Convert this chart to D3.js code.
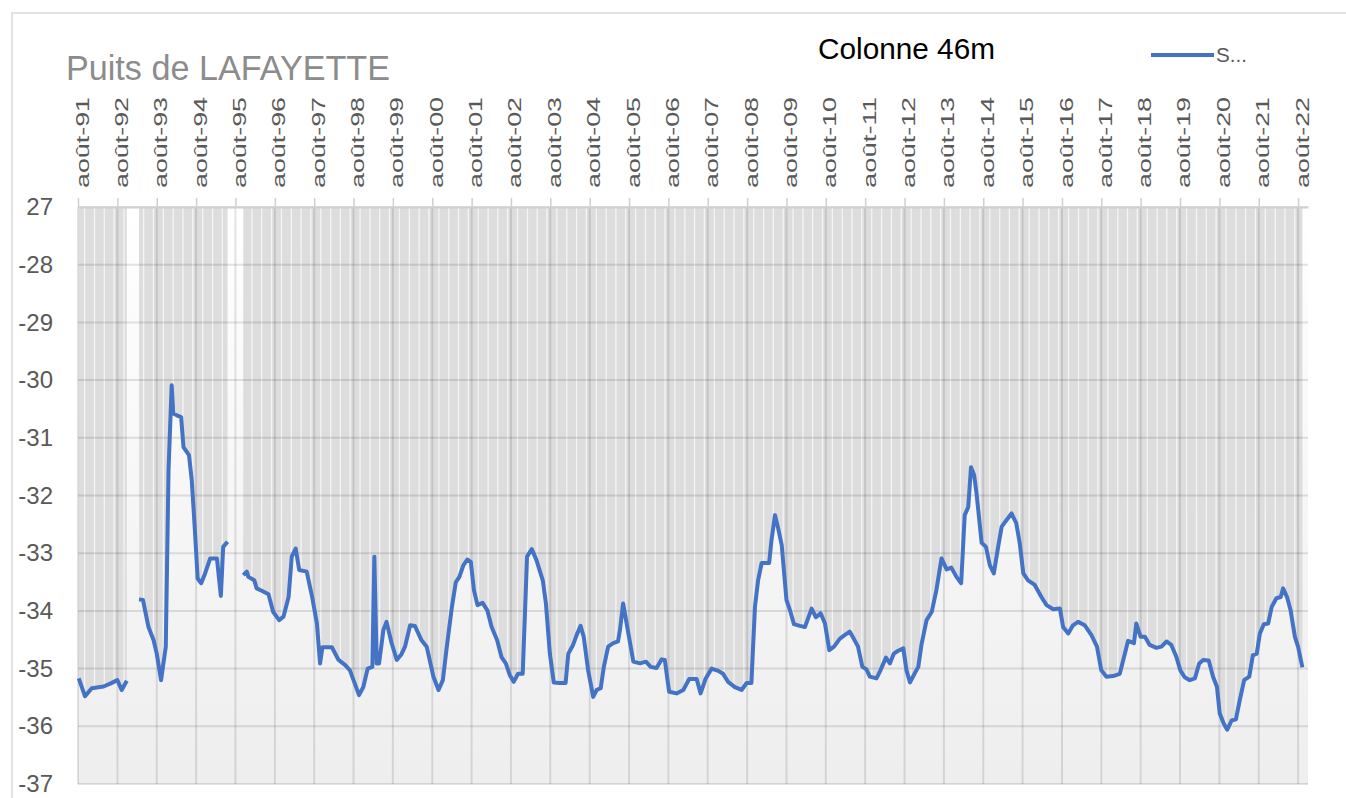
<!DOCTYPE html>
<html>
<head>
<meta charset="utf-8">
<script src="https://cdnjs.cloudflare.com/ajax/libs/d3/7.8.5/d3.min.js"></script>
<style>
  body { margin: 0; background: #fff; }
  svg { display: block; }
  text { font-family: "Liberation Sans Narrow", "Liberation Sans", Arial, sans-serif; }
</style>
</head>
<body>
<script>
// lecture du graphique : date en année décimale, niveau en m (null = pas de mesure)
var annees = [
  1991.60, 1991.76, 1991.93, 1992.23, 1992.40, 1992.58, 1992.69, 1992.82, 1992.95,
  1993.13, 1993.23, 1993.37, 1993.50, 1993.58, 1993.69, 1993.81, 1993.88, 1993.96, 1994.00,
  1994.09, 1994.20, 1994.26, 1994.40, 1994.47, 1994.55, 1994.62, 1994.71, 1994.81, 1994.94,
  1995.11, 1995.21, 1995.27, 1995.38, 1995.55,
  1995.78, 1995.87, 1995.91, 1996.06, 1996.12, 1996.25, 1996.42, 1996.54, 1996.69, 1996.80,
  1996.93, 1997.01, 1997.11, 1997.20, 1997.39, 1997.53, 1997.65, 1997.73, 1997.79, 1998.03,
  1998.20, 1998.37, 1998.49, 1998.72, 1998.83, 1998.94, 1999.06, 1999.11, 1999.17, 1999.23,
  1999.34, 1999.42, 1999.55, 1999.68, 1999.80, 1999.89, 2000.02, 2000.14, 2000.31, 2000.44,
  2000.61, 2000.74, 2000.85, 2000.95, 2001.08, 2001.18, 2001.27, 2001.37, 2001.47, 2001.56,
  2001.64, 2001.73, 2001.86, 2001.98, 2002.09, 2002.23, 2002.34, 2002.45, 2002.55, 2002.65,
  2002.76, 2002.88, 2002.99, 2003.11, 2003.23, 2003.39, 2003.47, 2003.57, 2003.67, 2003.81,
  2003.97, 2004.04, 2004.16, 2004.25, 2004.35, 2004.43, 2004.54, 2004.67, 2004.76, 2004.86,
  2004.94, 2005.05, 2005.18, 2005.30, 2005.35, 2005.43, 2005.52, 2005.69, 2005.86, 2006.01,
  2006.13, 2006.28, 2006.41, 2006.49, 2006.60, 2006.79, 2006.96, 2007.11, 2007.30, 2007.40,
  2007.53, 2007.68, 2007.85, 2007.97, 2008.10, 2008.27, 2008.44, 2008.57, 2008.69, 2008.78,
  2008.86, 2008.95, 2009.14, 2009.20, 2009.29, 2009.37, 2009.46, 2009.58, 2009.67, 2009.77,
  2009.92, 2010.05, 2010.22, 2010.33, 2010.45, 2010.56, 2010.67, 2010.79, 2010.94, 2011.06,
  2011.19, 2011.29, 2011.40, 2011.51, 2011.61, 2011.70, 2011.87, 2011.97, 2012.11, 2012.21,
  2012.31, 2012.42, 2012.55, 2012.63, 2012.72, 2012.84, 2012.93, 2013.01, 2013.14, 2013.27,
  2013.39, 2013.52, 2013.65, 2013.77, 2013.90, 2014.02, 2014.11, 2014.20, 2014.27, 2014.35,
  2014.41, 2014.54, 2014.65, 2014.75, 2014.85, 2014.96, 2015.05, 2015.17, 2015.30, 2015.42,
  2015.51, 2015.60, 2015.72, 2015.89, 2016.06, 2016.19, 2016.36, 2016.53, 2016.61, 2016.74,
  2016.86, 2016.99, 2017.16, 2017.33, 2017.47, 2017.58, 2017.71, 2017.88, 2018.05, 2018.18,
  2018.26, 2018.41, 2018.47, 2018.58, 2018.69, 2018.81, 2018.98, 2019.11, 2019.24, 2019.36,
  2019.49, 2019.59, 2019.70, 2019.83, 2019.96, 2020.07, 2020.17, 2020.31, 2020.42, 2020.52,
  2020.59, 2020.69, 2020.78, 2020.89, 2021.00, 2021.10, 2021.21, 2021.34, 2021.43, 2021.53,
  2021.61, 2021.71, 2021.82, 2021.91, 2022.03, 2022.14, 2022.20, 2022.30, 2022.39, 2022.50,
  2022.58, 2022.69
];
var niveaux = [
  -35.17, -35.48, -35.34, -35.31, -35.26, -35.20, -35.37, -35.21, null,
  -33.80, -33.81, -34.28, -34.51, -34.74, -35.20, -34.62, -31.56, -30.09, -30.58,
  -30.61, -30.64, -31.16, -31.30, -31.73, -32.60, -33.44, -33.52, -33.35, -33.09,
  -33.09, -33.74, -32.89, -32.80, null,
  -33.38, -33.32, -33.41, -33.47, -33.61, -33.65, -33.71, -34.02, -34.16, -34.10,
  -33.76, -33.06, -32.92, -33.29, -33.32, -33.76, -34.22, -34.91, -34.63, -34.63,
  -34.85, -34.94, -35.03, -35.46, -35.32, -35.00, -34.97, -33.06, -34.91, -34.91,
  -34.33, -34.19, -34.56, -34.85, -34.75, -34.62, -34.25, -34.26, -34.51, -34.62,
  -35.14, -35.37, -35.20, -34.62, -33.93, -33.50, -33.41, -33.21, -33.11, -33.15,
  -33.64, -33.90, -33.86, -33.99, -34.28, -34.51, -34.80, -34.91, -35.11, -35.23,
  -35.09, -35.09, -33.06, -32.93, -33.12, -33.47, -33.87, -34.74, -35.24, -35.25,
  -35.25, -34.74, -34.59, -34.42, -34.26, -34.45, -35.02, -35.49, -35.37, -35.34,
  -34.97, -34.62, -34.56, -34.53, -34.33, -33.87, -34.22, -34.88, -34.91, -34.88,
  -34.97, -34.99, -34.84, -34.85, -35.40, -35.43, -35.37, -35.18, -35.18, -35.43,
  -35.17, -35.00, -35.04, -35.09, -35.23, -35.32, -35.37, -35.25, -35.25, -33.93,
  -33.47, -33.17, -33.17, -32.77, -32.34, -32.57, -32.86, -33.81, -33.99, -34.23,
  -34.26, -34.28, -33.96, -34.11, -34.04, -34.22, -34.68, -34.62, -34.48, -34.42,
  -34.36, -34.48, -34.62, -34.97, -35.01, -35.14, -35.17, -35.03, -34.81, -34.91,
  -34.74, -34.69, -34.65, -35.03, -35.24, -35.08, -34.97, -34.59, -34.16, -34.02,
  -33.64, -33.09, -33.28, -33.25, -33.41, -33.52, -32.34, -32.20, -31.51, -31.65,
  -31.96, -32.82, -32.89, -33.21, -33.35, -32.89, -32.54, -32.43, -32.31, -32.48,
  -32.83, -33.35, -33.47, -33.55, -33.76, -33.90, -33.97, -33.96, -34.28, -34.39,
  -34.25, -34.19, -34.25, -34.42, -34.62, -35.03, -35.14, -35.13, -35.09, -34.74,
  -34.52, -34.56, -34.22, -34.45, -34.45, -34.59, -34.64, -34.62, -34.53, -34.59,
  -34.80, -35.03, -35.15, -35.20, -35.17, -34.91, -34.85, -34.86, -35.14, -35.32,
  -35.78, -35.95, -36.06, -35.90, -35.88, -35.54, -35.20, -35.14, -34.77, -34.74,
  -34.39, -34.23, -34.22, -33.93, -33.78, -33.76, -33.61, -33.76, -33.99, -34.45,
  -34.62, -34.98
];

var yTicks = [-27, -28, -29, -30, -31, -32, -33, -34, -35, -36, -37];
var yTickLabels = ['27', '-28', '-29', '-30', '-31', '-32', '-33', '-34', '-35', '-36', '-37'];
var titre = 'Puits de LAFAYETTE';
var sousTitre = 'Colonne 46m';
var legende = 'S...';

var W = 1346, H = 798;
var plot = { left: 78, right: 1308, top: 207, bottom: 784 };

function toDate(a) {
    var y = Math.floor(a);
    var t0 = new Date(y, 0, 1), t1 = new Date(y + 1, 0, 1);
    return new Date(+t0 + (a - y) * (t1 - t0));
}

var data = annees.map(function(a, i) {
    return { date: toDate(a), v: niveaux[i] };
});

var fr = d3.timeFormatLocale({
    dateTime: '%A %e %B %Y à %X', date: '%d/%m/%Y', time: '%H:%M:%S',
    periods: ['AM', 'PM'],
    days: ['dimanche', 'lundi', 'mardi', 'mercredi', 'jeudi', 'vendredi', 'samedi'],
    shortDays: ['dim.', 'lun.', 'mar.', 'mer.', 'jeu.', 'ven.', 'sam.'],
    months: ['janvier', 'février', 'mars', 'avril', 'mai', 'juin', 'juillet', 'août', 'septembre', 'octobre', 'novembre', 'décembre'],
    shortMonths: ['janv.', 'févr.', 'mars', 'avr.', 'mai', 'juin', 'juil.', 'août', 'sept.', 'oct.', 'nov.', 'déc.']
});
var fmt = fr.format('%b-%y');

var x = d3.scaleTime()
    .domain([new Date(1991, 7, 1), new Date(2022, 10, 1)])
    .range([plot.left, plot.right]);
var y = d3.scaleLinear()
    .domain([-27, -37])
    .range([plot.top, plot.bottom]);

var xTicks = d3.timeYear.range(new Date(1991, 0, 1), new Date(2023, 0, 1)).map(function(d) {
    return new Date(d.getFullYear(), 7, 1);
});

var svg = d3.select('body').append('svg')
    .attr('width', W).attr('height', H);

var defs = svg.append('defs');
var grad = defs.append('linearGradient').attr('id', 'fond')
    .attr('x1', 0).attr('y1', 0).attr('x2', 0).attr('y2', 1);
grad.append('stop').attr('offset', '0%').attr('stop-color', '#ffffff');
grad.append('stop').attr('offset', '100%').attr('stop-color', '#eeeeee');

// cadre du graphique
svg.append('path')
    .attr('d', 'M12,' + H + 'V13H' + W)
    .attr('fill', 'none').attr('stroke', '#d9d9d9').attr('stroke-width', 1.5);

// fond de la zone de tracé
svg.append('rect')
    .attr('x', plot.left).attr('y', plot.top)
    .attr('width', plot.right - plot.left).attr('height', plot.bottom - plot.top)
    .attr('fill', 'url(#fond)');

// aire grise entre le haut de l'axe et la courbe
var area = d3.area()
    .defined(function(d) { return d.v !== null; })
    .x(function(d) { return x(d.date); })
    .y0(y(-27))
    .y1(function(d) { return y(d.v); });

defs.append('clipPath').attr('id', 'clipAire')
    .append('path').attr('d', area(data));

svg.append('path')
    .attr('d', area(data))
    .attr('fill', '#dddddd');

// fines raies blanches dans l'aire
var trimestres = d3.timeMonth.every(3).range(new Date(1991, 7, 1), new Date(2022, 10, 1));
svg.append('g').attr('clip-path', 'url(#clipAire)')
    .selectAll('line').data(trimestres).join('line')
    .attr('x1', function(d) { return x(d); })
    .attr('x2', function(d) { return x(d); })
    .attr('y1', plot.top).attr('y2', plot.bottom)
    .attr('stroke', '#ffffff').attr('stroke-width', 1.3).attr('opacity', 0.7);

// quadrillage
svg.append('g').selectAll('line').data(yTicks).join('line')
    .attr('x1', plot.left).attr('x2', plot.right)
    .attr('y1', function(d) { return y(d); })
    .attr('y2', function(d) { return y(d); })
    .attr('stroke', '#000').attr('stroke-opacity', 0.11).attr('stroke-width', 2);
svg.append('g').selectAll('line').data(xTicks).join('line')
    .attr('x1', function(d) { return x(d); })
    .attr('x2', function(d) { return x(d); })
    .attr('y1', plot.top).attr('y2', plot.bottom)
    .attr('stroke', '#000').attr('stroke-opacity', 0.11).attr('stroke-width', 2);

// axe du haut
var xAxis = svg.append('g')
    .attr('transform', 'translate(0,' + plot.top + ')')
    .call(d3.axisTop(x).tickValues(xTicks).tickFormat(fmt).tickSize(9).tickSizeOuter(0));
xAxis.select('.domain').attr('stroke', '#d0d0d0').attr('stroke-width', 2);
xAxis.selectAll('.tick line').attr('stroke', '#d0d0d0').attr('stroke-width', 1.5);
xAxis.selectAll('.tick text')
    .attr('x', 0).attr('y', 0).attr('dy', null)
    .attr('transform', 'translate(10,-19) rotate(-90)')
    .attr('text-anchor', 'start')
    .attr('fill', '#595959')
    .style('font-size', '18px')
    .attr('textLength', 91)
    .attr('lengthAdjust', 'spacingAndGlyphs');

// axe vertical (étiquettes seules)
var yAxis = svg.append('g')
    .attr('transform', 'translate(53,0)')
    .call(d3.axisLeft(y).tickValues(yTicks).tickSize(0).tickPadding(0)
        .tickFormat(function(d, i) { return yTickLabels[i]; }));
yAxis.select('.domain').remove();
yAxis.selectAll('.tick text')
    .attr('fill', '#595959')
    .style('font-size', '24px');

// courbe
var line = d3.line()
    .defined(function(d) { return d.v !== null; })
    .x(function(d) { return x(d.date); })
    .y(function(d) { return y(d.v); });

svg.append('path')
    .attr('d', line(data))
    .attr('fill', 'none')
    .attr('stroke', '#4472c4')
    .attr('stroke-width', 4)
    .attr('stroke-linejoin', 'round');

// titres
svg.append('text')
    .attr('x', 66).attr('y', 80)
    .attr('fill', '#8c8c8c')
    .style('font-size', '35px')
    .attr('textLength', 324).attr('lengthAdjust', 'spacingAndGlyphs')
    .text(titre);

svg.append('text')
    .attr('x', 818).attr('y', 59)
    .attr('fill', '#000')
    .style('font-size', '30px')
    .attr('textLength', 177).attr('lengthAdjust', 'spacingAndGlyphs')
    .text(sousTitre);

// légende
svg.append('line')
    .attr('x1', 1151).attr('x2', 1214).attr('y1', 55).attr('y2', 55)
    .attr('stroke', '#4472c4').attr('stroke-width', 4);
svg.append('text')
    .attr('x', 1216).attr('y', 62)
    .attr('fill', '#595959')
    .style('font-size', '21px')
    .attr('textLength', 31).attr('lengthAdjust', 'spacingAndGlyphs')
    .text(legende);
</script>
</body>
</html>
